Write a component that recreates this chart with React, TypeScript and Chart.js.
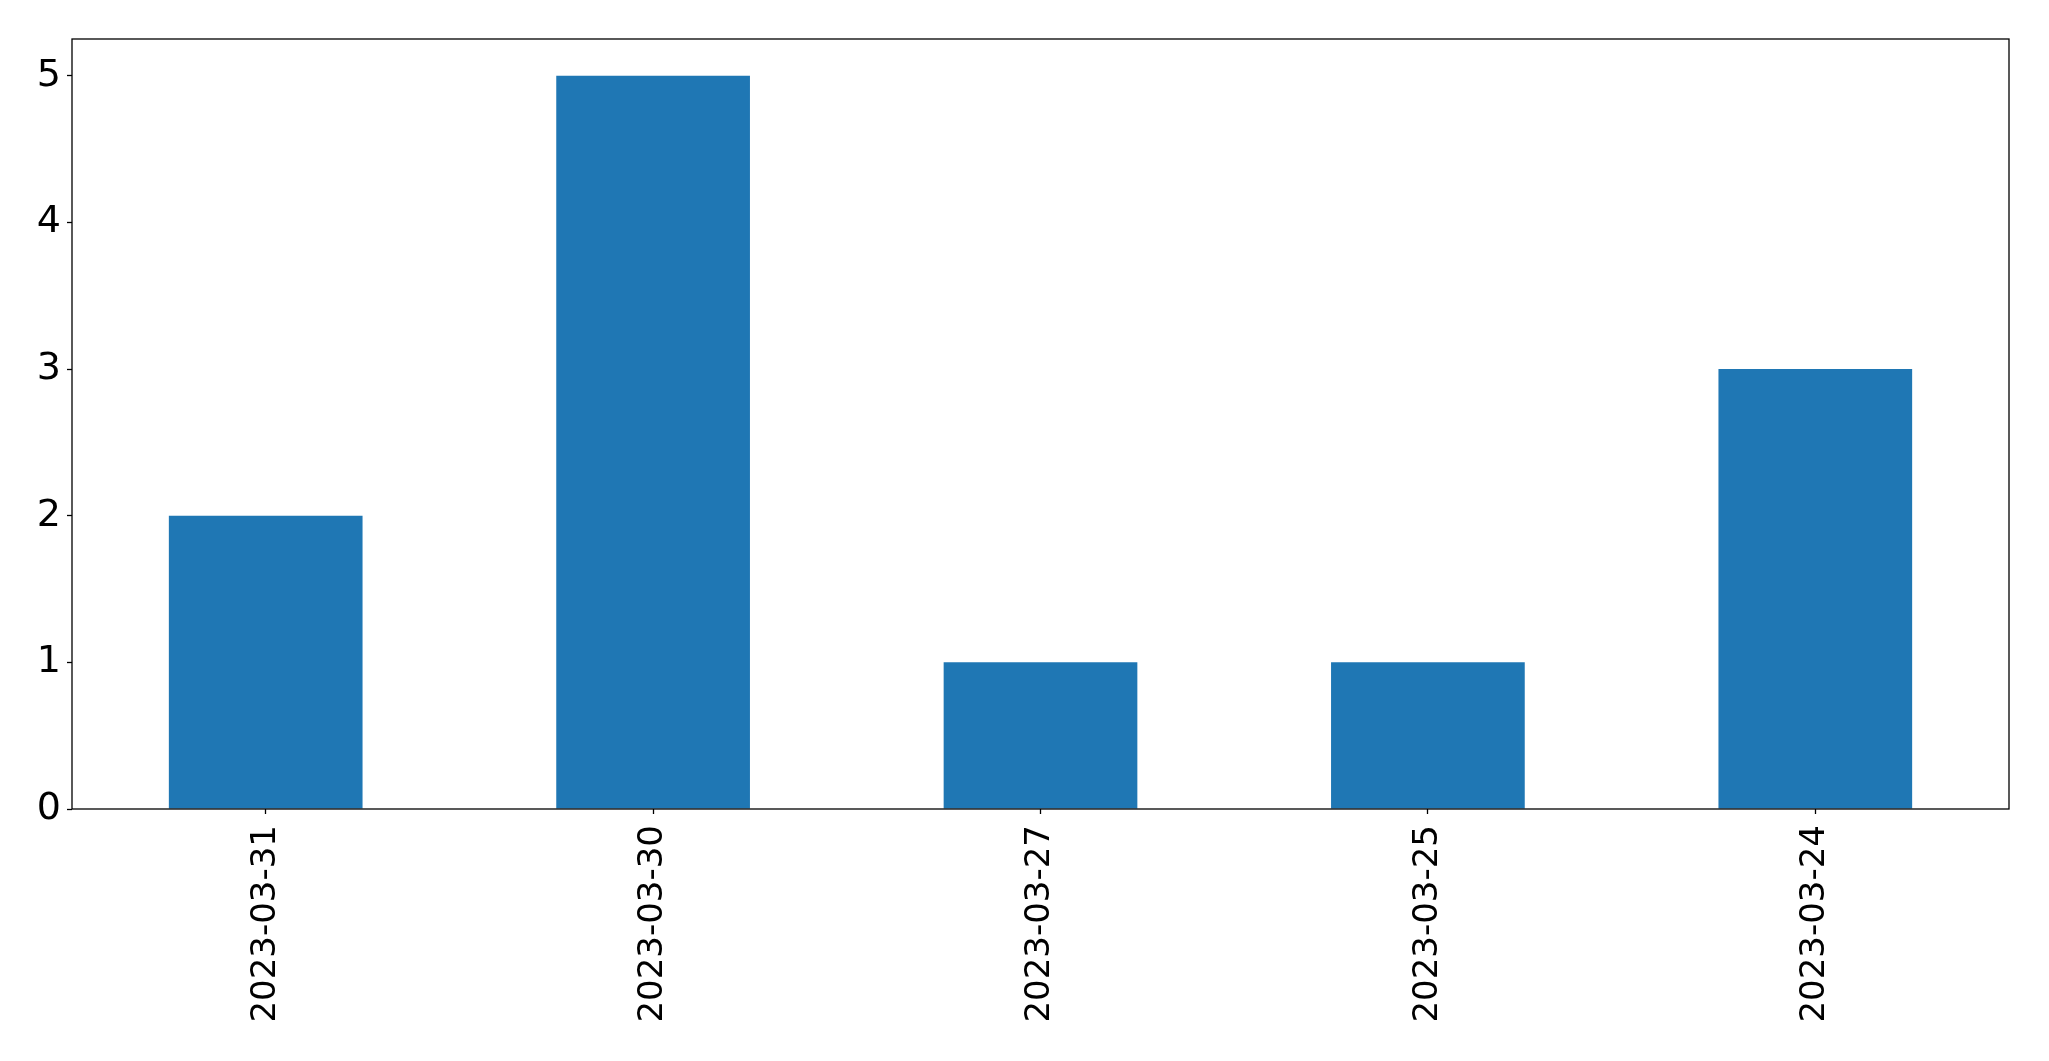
import React, { useEffect, useRef } from "react";
import { Chart, registerables } from "chart.js";

Chart.register(...registerables);

const categories = ["2023-03-31", "2023-03-30", "2023-03-27", "2023-03-25", "2023-03-24"];
const counts = [2, 5, 1, 1, 3];
const yTicks = [0, 1, 2, 3, 4, 5];

const W = 2049;
const H = 1061;

const framePlugin = {
  id: "frame",
  afterDraw(chart: any) {
    const { ctx, chartArea } = chart;
    ctx.save();
    ctx.strokeStyle = "#000";
    ctx.lineWidth = 1.3;
    ctx.strokeRect(chartArea.left, chartArea.top, chartArea.right - chartArea.left, chartArea.bottom - chartArea.top);
    ctx.restore();
  },
};

export default function App() {
  const ref = useRef<HTMLCanvasElement>(null);
  useEffect(() => {
    document.body.style.margin = "0";
    const chart = new Chart(ref.current!, {
      type: "bar",
      data: {
        labels: categories,
        datasets: [
          {
            data: counts,
            backgroundColor: "#1f77b4",
            categoryPercentage: 1,
            barPercentage: 0.5,
          },
        ],
      },
      options: {
        animation: false,
        responsive: false,
        devicePixelRatio: 1,
        layout: { padding: { top: 39, right: 40, left: 0, bottom: 0 } },
        plugins: { legend: { display: false }, tooltip: { enabled: false } },
        scales: {
          x: {
            offset: true,
            grid: { offset: false, drawOnChartArea: false, tickLength: 5, tickColor: "#000", tickWidth: 1.3 },
            border: { display: false },
            ticks: {
              minRotation: 90,
              maxRotation: 90,
              padding: 11,
              color: "#000",
              font: { family: "DejaVu Sans", size: 34 },
            },
            afterFit(scale: any) {
              scale.height = H - 809;
            },
          },
          y: {
            min: 0,
            max: 5.25,
            grid: { drawOnChartArea: false, tickLength: 5, tickColor: "#000", tickWidth: 1.3 },
            border: { display: false },
            afterBuildTicks(scale: any) {
              scale.ticks = yTicks.map((v) => ({ value: v }));
            },
            ticks: {
              stepSize: 1,
              padding: 6,
              color: "#000",
              font: { family: "DejaVu Sans", size: 38 },
            },
            afterFit(scale: any) {
              scale.width = 72;
            },
          },
        },
      },
      plugins: [framePlugin],
    });
    return () => chart.destroy();
  }, []);
  return (
    <div style={{ width: W, height: H, background: "#fff" }}>
      <canvas ref={ref} width={W} height={H} style={{ display: "block" }} />
    </div>
  );
}
